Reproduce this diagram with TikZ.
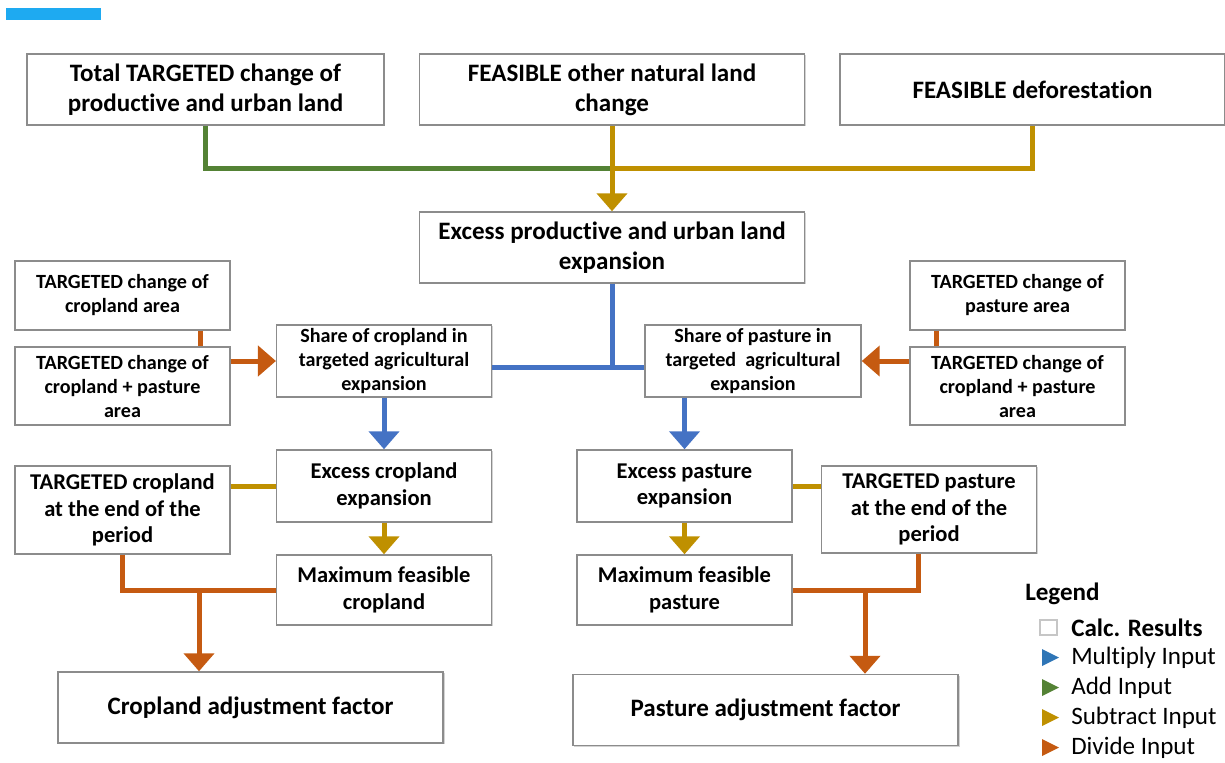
\documentclass[tikz,border=0pt]{standalone}
\usepackage{fontspec}
\setmainfont{Carlito}[Ligatures={NoCommon}]
\usetikzlibrary{arrows.meta,shadows}
\definecolor{addgreen}{HTML}{548235}
\definecolor{subgold}{HTML}{BF9000}
\definecolor{mulblue}{HTML}{4472C4}
\definecolor{divorange}{HTML}{C55A11}
\definecolor{legblue}{HTML}{2E75B6}
\definecolor{barblue}{HTML}{1EAAF1}
\definecolor{boxgray}{HTML}{8C8C8C}
\begin{document}
\begin{tikzpicture}[x=0.75bp,y=-0.75bp,>={Triangle[width=22.5bp,length=13.5bp]},line join=miter,
  calcbox/.style={draw=boxgray,line width=1.1bp,fill=white,align=center,inner sep=0pt,
    drop shadow={shadow xshift=1bp,shadow yshift=-1bp,opacity=0.35}},
  widebox/.style={minimum width=289bp,minimum height=53.25bp},
  narrowbox/.style={minimum width=161bp},
  bigtext/.style={font=\fontsize{18.8bp}{22.5bp}\selectfont\bfseries},
  midtext/.style={font=\fontsize{16.9bp}{20bp}\selectfont\bfseries},
  smalltext/.style={font=\fontsize{15.1bp}{18bp}\selectfont\bfseries},
  legendtext/.style={anchor=west,inner sep=0pt,font=\fontsize{18.8bp}{22bp}\selectfont},
  addline/.style={draw=addgreen,line width=3.75bp},
  subline/.style={draw=subgold,line width=3.75bp},
  mulline/.style={draw=mulblue,line width=3.75bp},
  divline/.style={draw=divorange,line width=3.75bp},
]
\useasboundingbox (0,0) rectangle (1225,762);
\fill [barblue] (6,8) rectangle (101,20);
%%
\node (node_total) at (205.5,89.5) [calcbox,bigtext,minimum width=267.75bp,minimum height=53.25bp] {Total TARGETED change of\\productive and urban land};
  \node (node_othernat) at (612,89.5) [calcbox,bigtext,widebox] {FEASIBLE other natural land\\change};
  \node (node_defor) at (1032.5,89.5) [calcbox,bigtext,widebox] {FEASIBLE deforestation};
  \node (node_excess) at (612,247.5) [calcbox,bigtext,widebox] {Excess productive and urban land\\expansion};
  \node (node_crop_chg) at (122.5,295.5) [calcbox,smalltext,narrowbox,minimum height=51.75bp] {TARGETED change of\\cropland area};
  \node (node_agri_chg_l) at (122.5,386) [calcbox,smalltext,narrowbox,minimum height=58.5bp] {TARGETED change of\\cropland + pasture\\area};
  \node (node_crop_share) at (384,361) [calcbox,smalltext,narrowbox,minimum height=54bp] {Share of cropland in\\targeted agricultural\\expansion};
  \node (node_past_share) at (753,361) [calcbox,smalltext,minimum width=162bp,minimum height=54bp] {Share of pasture in\\targeted\ \ agricultural\\expansion};
  \node (node_past_chg) at (1017.5,295.5) [calcbox,smalltext,narrowbox,minimum height=51.75bp] {TARGETED change of\\pasture area};
  \node (node_agri_chg_r) at (1017.5,386) [calcbox,smalltext,narrowbox,minimum height=58.5bp] {TARGETED change of\\cropland + pasture\\area};
  \node (node_crop_exc) at (384,486) [calcbox,midtext,narrowbox,minimum height=54bp] {Excess cropland\\expansion};
  \node (node_past_exc) at (684.5,486) [calcbox,midtext,narrowbox,minimum height=54bp] {Excess pasture\\expansion};
  \node (node_crop_end) at (122.5,510) [calcbox,midtext,narrowbox,minimum height=66bp] {TARGETED cropland\\at the end of the\\period};
  \node (node_past_end) at (929,509.5) [calcbox,midtext,narrowbox,minimum height=65.25bp] {TARGETED pasture\\at the end of the\\period};
  \node (node_crop_max) at (384,590) [calcbox,midtext,narrowbox,minimum height=52.5bp] {Maximum feasible\\cropland};
  \node (node_past_max) at (684.5,590) [calcbox,midtext,narrowbox,minimum height=52.5bp] {Maximum feasible\\pasture};
  \node (node_crop_adj) at (250.5,707.5) [calcbox,bigtext,widebox] {Cropland adjustment factor};
  \node (node_past_adj) at (765.5,710) [calcbox,bigtext,widebox] {Pasture adjustment factor};
%
\coordinate (tee_top) at (612,168);
  \coordinate (tee_share) at (612,367);
  \coordinate (tee_crop) at (199,590);
  \coordinate (tee_past) at (865,590);
  \draw [addline] (node_total.south) |- (tee_top);
  \draw [subline] (node_defor.south) |- (tee_top);
  \draw [subline,->] (node_othernat.south) -- (node_excess.north);
  \draw [mulline] (node_excess.south) -- (tee_share);
  \draw [mulline] (node_crop_share.east |- tee_share) -- (node_past_share.west |- tee_share);
  \draw [mulline,->] (node_crop_share.south) -- (node_crop_exc.north);
  \draw [mulline,->] (node_past_share.south -| node_past_exc.north) -- (node_past_exc.north);
  \draw [divline] ([xshift=-22.5bp]node_crop_chg.south east) -- ([xshift=-22.5bp]node_agri_chg_l.north east);
  \draw [divline,->] (node_agri_chg_l.east |- node_crop_share.west) -- (node_crop_share.west);
  \draw [divline] ([xshift=20.25bp]node_past_chg.south west) -- ([xshift=20.25bp]node_agri_chg_r.north west);
  \draw [divline,->] (node_agri_chg_r.west |- node_past_share.east) -- (node_past_share.east);
  \draw [subline] (node_crop_end.east |- node_crop_exc.west) -- (node_crop_exc.west);
  \draw [subline] (node_past_exc.east) -- (node_past_end.west |- node_past_exc.east);
  \draw [subline,->] (node_crop_exc.south) -- (node_crop_max.north);
  \draw [subline,->] (node_past_exc.south) -- (node_past_max.north);
  \draw [divline] (node_crop_end.south) |- (node_crop_max.west);
  \draw [divline,->] (tee_crop) -- (tee_crop |- node_crop_adj.north);
  \draw [divline] (node_past_max.east) -| ([xshift=-8.25bp]node_past_end.south);
  \draw [divline,->] (tee_past) -- (tee_past |- node_past_adj.north);
%
\node (legend_title) at (1025,594) [legendtext,font=\fontsize{18.8bp}{22bp}\selectfont\bfseries] {Legend};
  \node (legend_box) at (1048.5,627.5) [draw=gray!45,line width=1bp,minimum width=12.75bp,minimum height=11.25bp,inner sep=0pt] {};
  \node (legend_calc) at (1071,628) [legendtext,font=\fontsize{18.8bp}{22bp}\selectfont\bfseries] {Calc. Results};
  \fill [legblue] (1042,649) -- (1059,657.5) -- (1042,666) -- cycle;
  \node (legend_mul) at (1071,658) [legendtext] {Multiply Input};
  \fill [addgreen] (1042,679) -- (1059,687.5) -- (1042,696) -- cycle;
  \node (legend_add) at (1071,688) [legendtext] {Add Input};
  \fill [subgold] (1042,709) -- (1059,717.5) -- (1042,726) -- cycle;
  \node (legend_sub) at (1071,718) [legendtext] {Subtract Input};
  \fill [divorange] (1042,739) -- (1059,747.5) -- (1042,756) -- cycle;
  \node (legend_div) at (1071,748) [legendtext] {Divide Input};
%
\end{tikzpicture}
\end{document}
